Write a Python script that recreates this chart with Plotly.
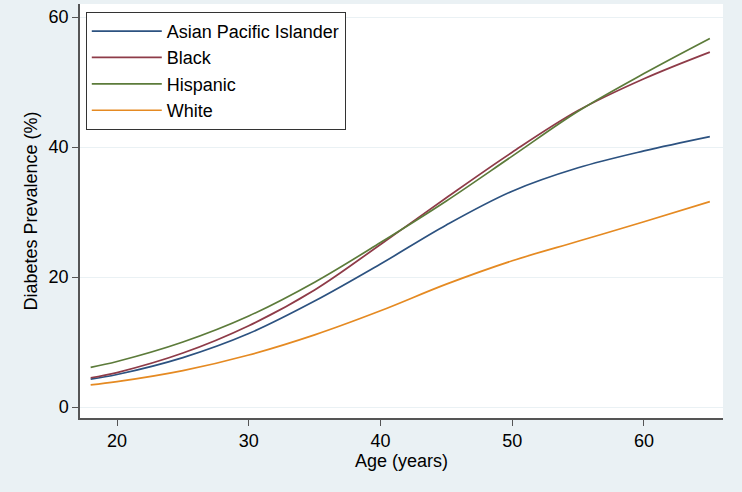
import plotly.graph_objects as go

ages = [18, 20, 25, 30, 35, 40, 45, 50, 55, 60, 65]
asian = [4.3, 5.0, 7.6, 11.3, 16.3, 22.0, 28.0, 33.2, 36.8, 39.4, 41.6]
black = [4.5, 5.3, 8.3, 12.5, 18.0, 25.0, 32.2, 39.2, 45.6, 50.5, 54.6]
hispanic = [6.1, 7.0, 10.0, 14.0, 19.2, 25.3, 31.7, 38.6, 45.5, 51.3, 56.7]
white = [3.4, 3.9, 5.6, 8.0, 11.1, 14.8, 18.9, 22.5, 25.5, 28.5, 31.6]

series_names = ["Asian Pacific Islander", "Black", "Hispanic", "White"]
series_values = [asian, black, hispanic, white]
colors = ["#2c5280", "#8e3b48", "#5c7b3a", "#e58a22"]

x_ticks = [20, 30, 40, 50, 60]
y_ticks = [0, 20, 40, 60]

font_family = "Liberation Sans, Arial, Helvetica, sans-serif"
bg = "#eaf1f4"

fig = go.Figure()
for name, vals, col in zip(series_names, series_values, colors):
    fig.add_trace(go.Scatter(
        x=ages, y=vals, mode="lines", name=name,
        line=dict(color=col, width=1.7, shape="spline", smoothing=1.0),
    ))

fig.update_layout(
    width=742, height=492,
    margin=dict(l=80, r=19, t=4, b=74),
    paper_bgcolor=bg,
    plot_bgcolor="#ffffff",
    font=dict(family=font_family, size=18, color="#000000"),
    showlegend=True,
    legend=dict(
        x=0.009, y=0.981, xanchor="left", yanchor="top",
        bgcolor="#ffffff", bordercolor="#333333", borderwidth=1,
        font=dict(size=18, color="#000000"),
        itemwidth=70, tracegroupgap=0,
        entrywidth=200, entrywidthmode="pixels",
    ),
)
fig.update_xaxes(
    range=[17.19, 66.0], tickvals=x_ticks, ticks="outside", ticklen=6,
    tickcolor="#555555", tickwidth=1.2,
    showline=True, linecolor="#555555", linewidth=1.5,
    showgrid=False, zeroline=False,
    tickfont=dict(size=18),
    title=dict(text="Age (years)", font=dict(size=18), standoff=0),
)
fig.update_yaxes(
    range=[-1.69, 62.0], tickvals=y_ticks, ticks="outside", ticklen=6,
    tickcolor="#555555", tickwidth=1.2,
    showline=True, linecolor="#555555", linewidth=1.5,
    showgrid=True, gridcolor=bg, gridwidth=1.2, zeroline=False,
    tickfont=dict(size=18),
    title=dict(text="Diabetes Prevalence (%)", font=dict(size=18), standoff=6),
)

fig.write_html(
    "out.html",
    config={"displayModeBar": False},
    post_script="document.body.style.margin='0';document.body.style.overflow='hidden';document.body.style.background='" + bg + "';",
)
